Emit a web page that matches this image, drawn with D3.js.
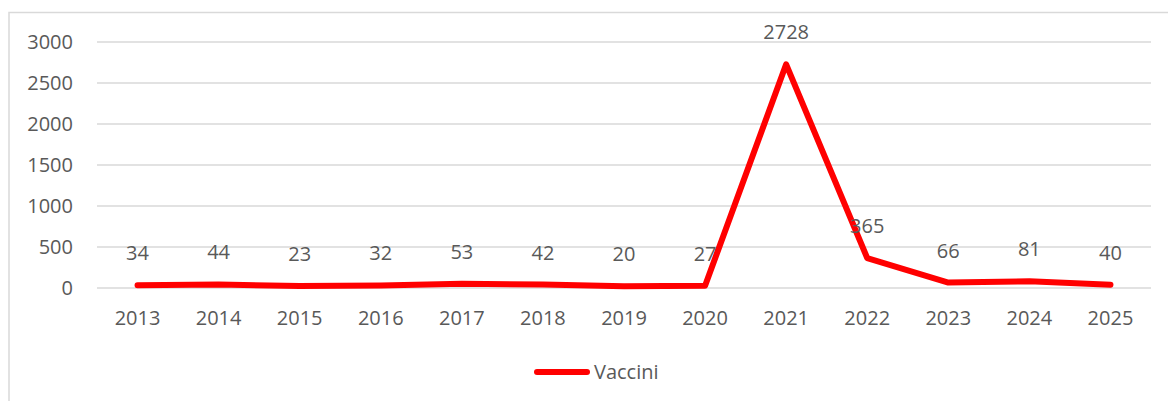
<!DOCTYPE html>
<html lang="it">
    <head>
        <meta charset="utf-8">
        <title>Vaccini</title>
        <script type="text/javascript" src="https://d3js.org/d3.v7.min.js"></script>
        <style type="text/css">
            body { margin: 0; background: #fff; }
            text { font-family: "Open Sans", sans-serif; fill: #595959; }
        </style>
    </head>
    <body>
        <script type="text/javascript">
            // Data
            var years = ["2013", "2014", "2015", "2016", "2017", "2018", "2019", "2020", "2021", "2022", "2023", "2024", "2025"];
            var vaccini = [34, 44, 23, 32, 53, 42, 20, 27, 2728, 365, 66, 81, 40];
            var yTicks = [0, 500, 1000, 1500, 2000, 2500, 3000];

            var w = 1168;
            var h = 401;
            var fs = 20;

            var svg = d3.select("body")
                        .append("svg")
                        .attr("width", w)
                        .attr("height", h);

            // chart border
            svg.append("rect")
               .attr("x", 9).attr("y", 12.5)
               .attr("width", 1200).attr("height", 500)
               .attr("fill", "none")
               .attr("stroke", "#d9d9d9")
               .attr("stroke-width", 1.5);

            var x = d3.scaleBand()
                      .domain(years)
                      .range([97, 1151]);

            var y = d3.scaleLinear()
                      .domain([0, 3000])
                      .range([288, 42]);

            // gridlines
            svg.selectAll("line.grid")
               .data(yTicks)
               .enter()
               .append("line")
               .attr("class", "grid")
               .attr("x1", 97)
               .attr("x2", 1151)
               .attr("y1", function(d) { return y(d); })
               .attr("y2", function(d) { return y(d); })
               .attr("stroke", "#d9d9d9")
               .attr("stroke-width", 1.5);

            // y axis labels
            svg.selectAll("text.ytick")
               .data(yTicks)
               .enter()
               .append("text")
               .attr("class", "ytick")
               .attr("x", 73)
               .attr("y", function(d) { return y(d); })
               .attr("dy", "0.35em")
               .attr("text-anchor", "end")
               .attr("font-size", fs + "px")
               .text(function(d) { return d; });

            // x axis labels
            svg.selectAll("text.xtick")
               .data(years)
               .enter()
               .append("text")
               .attr("class", "xtick")
               .attr("x", function(d) { return x(d) + x.bandwidth() / 2; })
               .attr("y", 318)
               .attr("dy", "0.35em")
               .attr("text-anchor", "middle")
               .attr("font-size", fs + "px")
               .text(function(d) { return d; });

            // line
            var line = d3.line()
                         .x(function(d, i) { return x(years[i]) + x.bandwidth() / 2; })
                         .y(function(d) { return y(d); });

            svg.append("path")
               .datum(vaccini)
               .attr("d", line)
               .attr("fill", "none")
               .attr("stroke", "#ff0000")
               .attr("stroke-width", 6)
               .attr("stroke-linejoin", "round")
               .attr("stroke-linecap", "round");

            // data labels
            svg.selectAll("text.val")
               .data(vaccini)
               .enter()
               .append("text")
               .attr("class", "val")
               .attr("x", function(d, i) { return x(years[i]) + x.bandwidth() / 2; })
               .attr("y", function(d) { return y(d) - 32; })
               .attr("dy", "0.35em")
               .attr("text-anchor", "middle")
               .attr("font-size", fs + "px")
               .text(function(d) { return d; });

            // legend
            svg.append("line")
               .attr("x1", 537).attr("x2", 587)
               .attr("y1", 372).attr("y2", 372)
               .attr("stroke", "#ff0000")
               .attr("stroke-width", 6)
               .attr("stroke-linecap", "round");

            svg.append("text")
               .attr("x", 594)
               .attr("y", 372)
               .attr("dy", "0.35em")
               .attr("font-size", fs + "px")
               .text("Vaccini");
        </script>
    </body>
</html>
